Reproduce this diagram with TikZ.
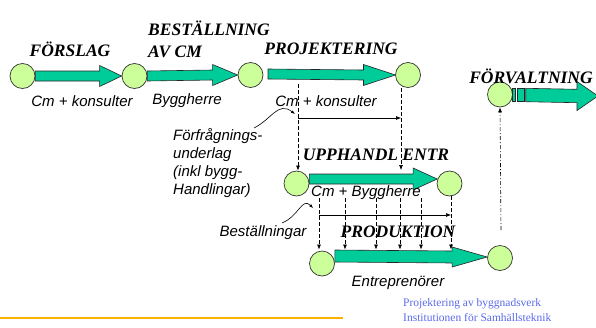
\documentclass[tikz,border=0pt]{standalone}
\usepackage{fontspec}
\setmainfont{Liberation Serif}
\newfontfamily\labelfont{Liberation Sans}
\usetikzlibrary{calc,arrows.meta}
\definecolor{circfill}{RGB}{204,255,153}
\definecolor{arrfill}{RGB}{0,204,153}
\definecolor{footblue}{RGB}{90,105,235}
\definecolor{orangeline}{RGB}{255,176,0}
\newcommand\fatarrow[5]{%
  \filldraw[fatarrowstyle] let \p1=(#1), \p2=(#2) in
    (\x1,\y1+#3) -- (\x2-#5,\y2+#3) -- (\x2-#5,\y2+#4) -- (\x2,\y2)
    -- (\x2-#5,\y2-#4) -- (\x2-#5,\y2-#3) -- (\x1,\y1-#3) -- cycle;}
\begin{document}
\begin{tikzpicture}[x=1pt,y=-1pt,
  milestone/.style={circle,draw=black!80,line width=0.7pt,fill=circfill,minimum size=25pt,inner sep=0pt},
  fatarrowstyle/.style={fill=arrfill,draw=black!85,line width=0.6pt},
  phase/.style={font=\fontsize{17.5}{18}\selectfont\bfseries\itshape,inner sep=0pt},
  lbl/.style={font=\labelfont\fontsize{15}{18}\selectfont\itshape,inner sep=0pt},
  dashline/.style={line width=0.6pt,dash pattern=on 4pt off 2pt,-{Latex[length=5pt,width=4pt]}},
  solidline/.style={line width=0.6pt,-{Latex[length=5pt,width=4pt]}},
  dotline/.style={line width=0.6pt,dash pattern=on 4pt off 2pt on 1pt off 2pt,-{Latex[length=5pt,width=4pt]}},
  pointer/.style={line width=0.6pt,-{Latex[length=4pt,width=3pt]}},
  foot/.style={font=\fontsize{11.5}{15}\selectfont,text=footblue,align=left,inner sep=0pt}]
\useasboundingbox (0,0) rectangle (596,327);

% milestones
\node[milestone] (c1) at (22.5,76) {};
\node[milestone] (c2) at (134.5,76) {};
\node[milestone] (c3) at (250.5,75) {};
\node[milestone] (c4) at (408,75) {};
\node[milestone] (c5) at (500,94.5) {};
\node[milestone] (c6) at (296.5,183.5) {};
\node[milestone] (c7) at (449.5,183.5) {};
\node[milestone] (c8) at (322,263.5) {};
\node[milestone] (c9) at (500,258) {};

% dashed dependency lines (upper)
\coordinate (u1a) at (298,84);  \coordinate (u1b) at (298,170.5);
\coordinate (u2a) at (401,88);  \coordinate (u2b) at (401,170);
\coordinate (h1a) at (298,118); \coordinate (h1b) at (401,118);
\draw[dashline] (u1a) -- (u1b);
\draw[dashline] (u2a) -- (u2b);
\draw[solidline] (h1a) -- (h1b);

% dashed dependency lines (lower)
\foreach \xx/\nm in {319/l1,345/l2,376/l3,400/l4,421/l5}{
  \coordinate (\nm a) at (\xx,198); \coordinate (\nm b) at (\xx,249.5);
  \draw[dashline] (\nm a) -- (\nm b);}
\coordinate (l6a) at (451,196); \coordinate (l6b) at (451,249.5);
\draw[dashline] (l6a) -- (l6b);
\coordinate (h2a) at (319,215); \coordinate (h2b) at (451,215);
\draw[solidline] (h2a) -- (h2b);

% dash-dot to förvaltning
\coordinate (dd) at (501,230);
\draw[dotline] (dd) -- (c5.south);

% curved pointers
\coordinate (p1s) at (254,128); \coordinate (p1e) at (295,114);
\draw[pointer] (p1s) .. controls (272,119) and (278,101) .. (p1e);
\coordinate (p2s) at (282,223); \coordinate (p2e) at (313,208);
\draw[pointer] (p2s) .. controls (299,216) and (302,197) .. (p2e);

% fat arrows
\fatarrow{c1.east}{c2.west}{5pt}{10.5pt}{22pt}
\fatarrow{c2.east}{c3.west}{5pt}{10.5pt}{25pt}
\coordinate (a3s) at (268,74);
\coordinate (a3t) at (395.5,75);
\fatarrow{a3s}{a3t}{5pt}{10.5pt}{32pt}
\coordinate (a5s) at ($(c6.east)+(0,-4.5)$);
\coordinate (a5t) at ($(c7.west)+(0.5,-4.5)$);
\fatarrow{a5s}{a5t}{5pt}{11pt}{24pt}
\coordinate (a6s) at ($(c8.east)+(0,-7.5)$);
\coordinate (a6t) at ($(c9.west)+(0,-1)$);
\fatarrow{a6s}{a6t}{6pt}{10pt}{35pt}
% förvaltning arrow with broken start
\filldraw[fatarrowstyle] (512,88.3) rectangle (515.7,101.7);
\filldraw[fatarrowstyle] (517.7,88.3) rectangle (524,101.7);
\coordinate (a4s) at (525.7,95);
\coordinate (a4t) at (598,96);
\fatarrow{a4s}{a4t}{6.7pt}{14.5pt}{21pt}

% phase titles
\node[phase] (t1) at (70,49) {FÖRSLAG};
\node[phase,anchor=west] (t2a) at (148,28.5) {BESTÄLLNING};
\node[phase,anchor=west] (t2b) at (148,51.5) {AV CM};
\node[phase] (t3) at (331,49) {PROJEKTERING};
\node[phase] (t4) at (531,76.5) {FÖRVALTNING};
\node[phase] (t5) at (376,155) {UPPHANDL ENTR};
\node[phase] (t6) at (398,231.5) {PRODUKTION};

% labels
\node[lbl] (b1) at (82,101) {Cm + konsulter};
\node[lbl] (b2) at (187,101) {Byggherre};
\node[lbl] (b3) at (326,101) {Cm + konsulter};
\node[lbl,anchor=west,align=left] (b4) at (173,163) {Förfrågnings-\\underlag\\(inkl bygg-\\Handlingar)};
\node[lbl] (b5) at (366,193) {Cm + Byggherre};
\node[lbl] (b6) at (263,233) {Beställningar};
\node[lbl] (b7) at (398,283) {Entreprenörer};

% footer
\coordinate (o1) at (0,318); \coordinate (o2) at (343,318);
\draw[orangeline,line width=1.5pt] (o1) -- (o2);
\node[foot,anchor=west] (f1) at (403,310.5) {Projektering av byggnadsverk\\Institutionen för Samhällsteknik};
\end{tikzpicture}
\end{document}
